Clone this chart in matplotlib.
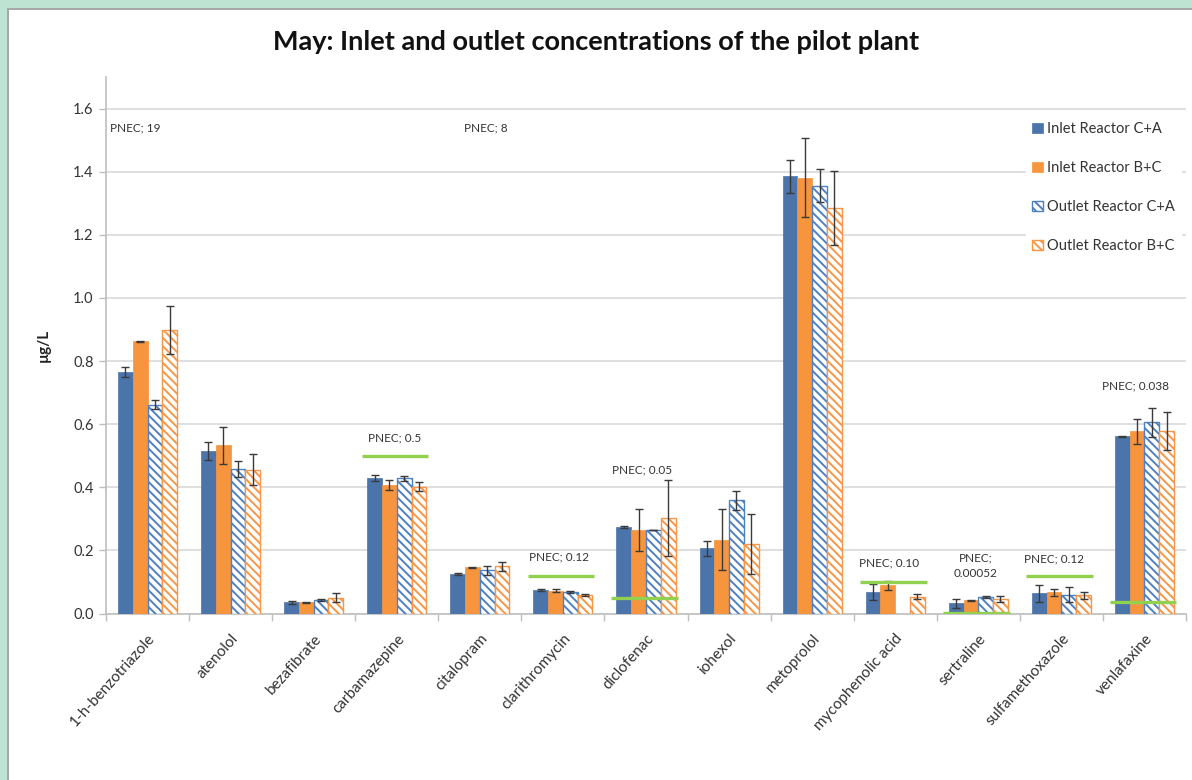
import numpy as np
import matplotlib
matplotlib.use("Agg")
import matplotlib.pyplot as plt
from matplotlib.patches import Rectangle

plt.rcParams['font.family'] = ['Lato', 'DejaVu Sans']
plt.rcParams['hatch.linewidth'] = 1.4

# ---- data -------------------------------------------------------------
categories = ["1-h-benzotriazole", "atenolol", "bezafibrate", "carbamazepine",
              "citalopram", "clarithromycin", "diclofenac", "iohexol",
              "metoprolol", "mycophenolic acid", "sertraline",
              "sulfamethoxazole", "venlafaxine"]

series_names = ["Inlet Reactor C+A", "Inlet Reactor B+C",
                "Outlet Reactor C+A", "Outlet Reactor B+C"]

inlet_ca = [0.765, 0.515, 0.035, 0.430, 0.125, 0.074, 0.274, 0.207, 1.385, 0.068, 0.033, 0.064, 0.561]
inlet_ca_err = [0.016, 0.030, 0.004, 0.010, 0.004, 0.004, 0.002, 0.024, 0.053, 0.025, 0.014, 0.027, 0.002]

inlet_bc = [0.862, 0.533, 0.036, 0.407, 0.146, 0.072, 0.264, 0.234, 1.381, 0.089, 0.042, 0.067, 0.577]
inlet_bc_err = [0.003, 0.059, 0.002, 0.017, 0.002, 0.005, 0.066, 0.097, 0.125, 0.013, 0.002, 0.010, 0.040]

outlet_ca = [0.661, 0.457, 0.042, 0.428, 0.137, 0.067, 0.264, 0.359, 1.355, np.nan, 0.052, 0.060, 0.606]
outlet_ca_err = [0.014, 0.025, 0.003, 0.009, 0.014, 0.003, 0.0, 0.030, 0.052, np.nan, 0.003, 0.024, 0.046]

outlet_bc = [0.898, 0.456, 0.050, 0.402, 0.150, 0.058, 0.302, 0.220, 1.286, 0.053, 0.047, 0.058, 0.577]
outlet_bc_err = [0.077, 0.050, 0.014, 0.014, 0.014, 0.004, 0.121, 0.094, 0.117, 0.008, 0.009, 0.011, 0.060]

# PNEC thresholds (µg/L) per compound; NaN where none is given
pnec = [19, np.nan, np.nan, 0.5, np.nan, 0.12, 0.05, np.nan, 8, 0.10, 0.00052, 0.12, 0.038]
pnec_text = ["PNEC; 19", None, None, "PNEC; 0.5", None, "PNEC; 0.12", "PNEC; 0.05",
             None, "PNEC; 8", "PNEC; 0.10", "PNEC;\n0.00052", "PNEC; 0.12", "PNEC; 0.038"]

# ---- styling ----------------------------------------------------------
BLUE = "#4a74aa"
ORANGE = "#f7953f"
HATCH_BLUE = "#4f81c0"
HATCH_ORANGE = "#f79646"
GREEN = "#92d050"
GRID = "#d9d9d9"
TEXT = "#333333"

# where each PNEC label sits (data coordinates, alignment)
label_pos = {
    0: (-0.45, 1.54, "left"),
    3: (2.97, 0.555, "center"),
    5: (4.95, 0.18, "center"),
    6: (5.95, 0.455, "center"),
    8: (4.07, 1.54, "center"),
    9: (8.93, 0.16, "center"),
    10: (9.97, 0.15, "center"),
    11: (10.91, 0.172, "center"),
    12: (11.89, 0.72, "center"),
}

fig = plt.figure(figsize=(11.92, 7.80), dpi=100)
fig.patch.set_facecolor("white")

# mint frame along the top and left edges
W, H = 1192, 780
fig.patches.append(Rectangle((0, 1 - 8 / H), 1, 8 / H, transform=fig.transFigure,
                             facecolor="#bfe3d3", edgecolor="none", zorder=0))
fig.patches.append(Rectangle((0, 0), 7 / W, 1, transform=fig.transFigure,
                             facecolor="#bfe3d3", edgecolor="none", zorder=0))
fig.patches.append(Rectangle((7 / W, 1 - 9.5 / H), 1, 1.5 / H, transform=fig.transFigure,
                             facecolor="#a8a8a8", edgecolor="none", zorder=0))
fig.patches.append(Rectangle((7 / W, 0), 1.5 / W, 1 - 8 / H, transform=fig.transFigure,
                             facecolor="#a8a8a8", edgecolor="none", zorder=0))

ax = fig.add_axes([106 / W, 1 - 613.5 / H, 1080 / W, 536.5 / H])

x = np.arange(len(categories))
bw = 0.178
offsets = np.array([-1.5, -0.5, 0.5, 1.5]) * bw

values = [inlet_ca, inlet_bc, outlet_ca, outlet_bc]
errors = [inlet_ca_err, inlet_bc_err, outlet_ca_err, outlet_bc_err]
styles = [
    dict(color=BLUE, edgecolor=BLUE, linewidth=0.5),
    dict(color=ORANGE, edgecolor=ORANGE, linewidth=0.5),
    dict(facecolor="white", edgecolor=HATCH_BLUE, hatch="\\\\\\\\", linewidth=1.0),
    dict(facecolor="white", edgecolor=HATCH_ORANGE, hatch="\\\\\\\\", linewidth=1.0),
]

handles = []
for vals, errs, off, st, name in zip(values, errors, offsets, styles, series_names):
    bars = ax.bar(x + off, vals, width=bw, label=name, zorder=3, **st)
    ax.errorbar(x + off, vals, yerr=errs, fmt="none", ecolor="#3a3a3a",
                elinewidth=1.0, capsize=3.2, capthick=1.0, zorder=4)
    handles.append(bars)

# PNEC threshold lines and labels
ymax = 1.7
for i, (p, t) in enumerate(zip(pnec, pnec_text)):
    if not np.isnan(p) and p < ymax:
        ax.plot([i - 0.42, i + 0.38], [p, p], color=GREEN, linewidth=2.4,
                zorder=5, solid_capstyle="butt")
    if t is not None and i in label_pos:
        lx, ly, ha = label_pos[i]
        ax.text(lx, ly, t, ha=ha, va="center", fontsize=8.5, color=TEXT,
                linespacing=1.5, zorder=6)

ax.set_xlim(-0.5, len(categories) - 0.5)
ax.set_ylim(0, ymax)
ax.set_yticks(np.arange(0, 1.61, 0.2))
ax.set_yticklabels([f"{v:.1f}" for v in np.arange(0, 1.61, 0.2)])
ax.yaxis.grid(True, color=GRID, linewidth=1.2, zorder=0)
ax.set_axisbelow(True)

ax.set_xticks(x)
ax.set_xticklabels(categories, rotation=48, ha="right", va="top",
                   rotation_mode="anchor", fontsize=11, color=TEXT)
ax.set_xticks(np.arange(-0.5, len(categories) + 0.5, 1), minor=True)
ax.tick_params(axis="x", which="major", length=0, pad=13)
ax.tick_params(axis="x", which="minor", length=5, color="#bfbfbf", width=1)
ax.tick_params(axis="y", length=5, color="#bfbfbf", width=1, labelsize=10.5,
               labelcolor=TEXT, pad=4)

for side in ("top", "right"):
    ax.spines[side].set_visible(False)
for side in ("left", "bottom"):
    ax.spines[side].set_color("#bfbfbf")
    ax.spines[side].set_linewidth(1.2)

ax.set_ylabel("µg/L", fontsize=11, fontweight="bold", color="#222222", labelpad=16)

fig.text(0.5, 1 - 42 / H, "May: Inlet and outlet concentrations of the pilot plant",
         ha="center", va="center", fontsize=19.5, fontweight="bold", color="#111111")

leg = ax.legend(handles=handles, loc="upper left",
                bbox_to_anchor=(1019 / W, 1 - 109 / H), bbox_transform=fig.transFigure,
                fontsize=10.5, handlelength=0.72, handleheight=0.72, handletextpad=0.3,
                labelspacing=1.72, borderpad=0.4, frameon=True, fancybox=False,
                facecolor="white", edgecolor="white", framealpha=1.0)
for txt in leg.get_texts():
    txt.set_color(TEXT)

fig.savefig("out.png", dpi=100, facecolor=fig.get_facecolor())
